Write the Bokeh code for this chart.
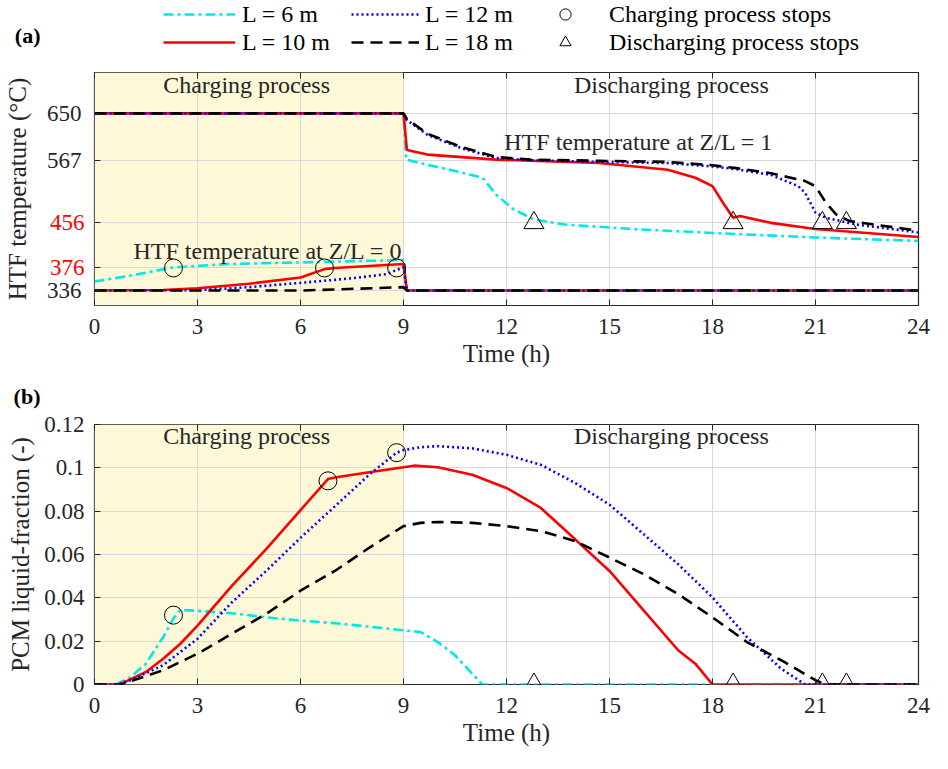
import math
from bokeh.plotting import figure
from bokeh.models import (Range1d, FixedTicker, LinearAxis, BoxAnnotation, Label,
                          Legend, LegendItem)
from bokeh.layouts import column
from bokeh.embed import file_html
from bokeh.resources import INLINE

FONT = "Liberation Serif"
INK = "#262626"
W = 932
NAN = [math.nan]   # placeholder data for legend-only renderers

# ---------------- data ----------------
x_ticks = [0, 3, 6, 9, 12, 15, 18, 21, 24]
temp_ticks = [336, 376, 456, 567, 650]
temp_black_ticks = [336, 567, 650]
temp_red_ticks = [376, 456]
frac_ticks = [0, 0.02, 0.04, 0.06, 0.08, 0.1, 0.12]
frac_tick_labels = ["0", "0.02", "0.04", "0.06", "0.08", "0.1", "0.12"]
charge_end = 9

labels = ["L = 6 m", "L = 10 m", "L = 12 m", "L = 18 m"]

# HTF temperature at Z/L = 1 (upper curves)
t_up_6 = [0, 9, 9.08, 9.7, 10.5, 11.3, 11.7, 12.2, 12.8, 13.7, 15.7, 18, 21, 24]
T_up_6 = [650, 650, 568, 559, 548, 536, 506, 480, 462, 453, 445, 438, 430, 424]
t_up_10 = [0, 9, 9.1, 9.7, 11.7, 14.7, 16.7, 17.5, 18, 18.3, 18.6, 18.8, 19.7, 21, 24]
T_up_10 = [650, 650, 585, 577, 568, 562, 550, 536, 521, 492, 465, 468, 456, 445, 431]
t_up_12 = [0, 9, 9.1, 9.7, 10.7, 11.7, 12.7, 14.7, 16.7, 18, 18.7, 19.7, 20.5, 20.7, 21, 21.3, 22.2, 24]
T_up_12 = [650, 650, 638, 612, 588, 571, 567, 564, 562, 556, 551, 541, 521, 509, 474, 465, 453, 439]
t_up_18 = [0, 9, 9.1, 9.7, 10.7, 11.7, 12.7, 14.7, 16.7, 18, 18.7, 19.7, 20.7, 21, 21.3, 21.6, 22, 24]
T_up_18 = [650, 650, 640, 614, 590, 573, 568, 566, 564, 558, 553, 544, 530, 521, 492, 471, 459, 442]

# HTF temperature at Z/L = 0 (lower curves)
t_lo_6 = [0, 1, 2.3, 3.9, 6.8, 9, 9.1, 24]
T_lo_6 = [352, 362, 377, 383, 387, 390, 336, 336]
t_lo_10 = [0, 2, 3, 4.5, 6, 6.7, 7, 9, 9.1, 24]
T_lo_10 = [336, 337, 340, 348, 359, 374, 376, 383, 336, 336]
t_lo_12 = [0, 3, 4.5, 6, 7.5, 8.5, 8.9, 9, 9.1, 24]
T_lo_12 = [336, 336.6, 342, 349.6, 357.8, 365, 375, 377, 336, 336]
t_lo_18 = [0, 6, 7, 9, 9.1, 24]
T_lo_18 = [336, 336, 338, 342, 336, 336]

# PCM liquid fraction
t_f_6 = [0, 0.6, 1, 1.5, 2, 2.3, 2.5, 3, 4, 5, 6, 7, 8, 9, 9.5, 10, 10.5, 11, 11.3, 24]
f_6 = [0, 0, 0.0028, 0.0096, 0.0219, 0.0305, 0.0344, 0.034, 0.0329, 0.031, 0.0295,
       0.0283, 0.0267, 0.025, 0.0242, 0.0196, 0.0135, 0.005, 0, 0]
t_f_10 = [0, 0.7, 1, 1.5, 2, 2.5, 3, 4, 5, 6, 6.8, 7, 8, 9, 9.3, 10, 11, 12, 13, 14,
          15, 16, 17, 17.5, 18, 24]
f_10 = [0, 0, 0.002, 0.0058, 0.0119, 0.0188, 0.0272, 0.0455, 0.0625, 0.0805, 0.0948,
        0.0955, 0.098, 0.1003, 0.101, 0.1003, 0.0968, 0.0907, 0.0815, 0.067, 0.0524,
        0.0341, 0.0158, 0.0096, 0.0, 0]
t_f_12 = [0, 0.7, 1, 2, 3, 4, 5, 6, 7, 8, 8.8, 9, 9.5, 10, 11, 12, 13, 14, 15, 16,
          17, 18, 19, 20, 20.7, 24]
f_12 = [0, 0, 0.0017, 0.0089, 0.0211, 0.0379, 0.0524, 0.0677, 0.0822, 0.0968, 0.107,
        0.1082, 0.1095, 0.110, 0.109, 0.106, 0.1014, 0.093, 0.083, 0.0693, 0.0555,
        0.0402, 0.0219, 0.0073, 0, 0]
t_f_18 = [0, 0.8, 1, 2, 3, 4, 5, 6, 7, 8, 9, 9.5, 10, 11, 12, 13, 14, 15, 16, 17,
          18, 19, 20, 21, 21.3, 24]
f_18 = [0, 0, 0.0012, 0.0066, 0.0142, 0.0234, 0.0326, 0.0433, 0.0524, 0.0631, 0.0731,
        0.0746, 0.075, 0.0746, 0.0731, 0.0708, 0.0662, 0.0586, 0.0509, 0.0417, 0.031,
        0.0196, 0.0112, 0.002, 0, 0]

# markers: charging stops (circles) and discharging stops (triangles)
charge_stop_t_a = [2.3, 6.7, 8.8]
charge_stop_T = [376, 376, 376]
charge_stop_t_b = [2.3, 6.8, 8.8]
charge_stop_f = [0.032, 0.094, 0.107]
dis_stop_t = [12.8, 18.6, 21.2, 21.9]
dis_stop_T = [456, 456, 456, 456]
dis_stop_f = [0, 0, 0, 0]

# ---------------- styles ----------------
styles = {
    "L = 6 m": dict(line_color="#00E8E8", line_dash="10 4 3 4", line_width=2.6),
    "L = 10 m": dict(line_color="#FF0000", line_dash="solid", line_width=2.6),
    "L = 12 m": dict(line_color="#0000FF", line_dash="2 3", line_width=2.6),
    "L = 18 m": dict(line_color="#000000", line_dash="12 7", line_width=2.6),
}
circle_style = dict(marker="circle", size=18, fill_color=None, line_color="#000000", line_width=1)
tri_style = dict(marker="triangle", size=20, fill_color=None, line_color="#000000", line_width=1)


def strip_fig(height, tag, tag_pos):
    """Thin figure above a panel: carries the panel tag (as a bold axis label) and legends."""
    p = figure(width=W, height=height, x_range=Range1d(0, 1), y_range=Range1d(height, 0),
               output_backend="svg", toolbar_location=None,
               x_axis_location=None, y_axis_location="left",
               min_border_left=89, min_border_right=14, min_border_top=0, min_border_bottom=0,
               outline_line_color=None,
               background_fill_color="white", border_fill_color="white")
    p.grid.grid_line_color = None
    ax = p.yaxis[0]
    ax.ticker = FixedTicker(ticks=[tag_pos])
    ax.major_label_overrides = {tag_pos: tag}
    ax.axis_line_color = None
    ax.major_tick_line_color = None
    ax.minor_tick_line_color = None
    ax.major_tick_in = 0
    ax.major_tick_out = 0
    ax.major_label_text_font = FONT
    ax.major_label_text_font_size = "22px"
    ax.major_label_text_font_style = "bold"
    ax.major_label_text_color = "#000000"
    ax.major_label_standoff = 54
    return p


def plain_axis(ticks):
    return LinearAxis(ticker=FixedTicker(ticks=ticks), axis_line_color=None,
                      major_tick_in=6, major_tick_out=0, major_tick_line_color=INK,
                      minor_tick_line_color=None, major_label_text_color=None,
                      major_label_text_font_size="0px", major_label_standoff=0)


def style_label_axis(ax, ticks, color, standoff):
    ax.ticker = FixedTicker(ticks=ticks)
    ax.axis_line_color = None
    ax.major_tick_line_color = None
    ax.minor_tick_line_color = None
    ax.major_tick_in = 0
    ax.major_tick_out = 0
    ax.major_label_text_font = FONT
    ax.major_label_text_font_size = "23px"
    ax.major_label_text_color = color
    ax.major_label_standoff = standoff
    ax.axis_label_text_font = FONT
    ax.axis_label_text_font_size = "25px"
    ax.axis_label_text_font_style = "normal"
    ax.axis_label_text_color = INK


def make_fig(height, y_range, grid_ticks, border_top, border_bottom):
    p = figure(width=W, height=height, x_range=Range1d(0, 24), y_range=y_range,
               output_backend="svg", toolbar_location=None,
               min_border_left=89, min_border_right=14,
               min_border_top=border_top, min_border_bottom=border_bottom,
               background_fill_color="white", border_fill_color="white",
               outline_line_color=INK, outline_line_width=1.2)
    xa = p.xaxis[0]
    xa.ticker = FixedTicker(ticks=x_ticks)
    xa.axis_line_color = None
    xa.major_tick_in = 6
    xa.major_tick_out = 0
    xa.major_tick_line_color = INK
    xa.minor_tick_line_color = None
    xa.major_label_text_font = FONT
    xa.major_label_text_font_size = "23px"
    xa.major_label_text_color = INK
    xa.major_label_standoff = 13
    xa.axis_label = "Time (h)"
    xa.axis_label_text_font = FONT
    xa.axis_label_text_font_size = "25px"
    xa.axis_label_text_font_style = "normal"
    xa.axis_label_text_color = INK
    xa.axis_label_standoff = 3
    ya = p.yaxis[0]          # tick marks only
    ya.ticker = FixedTicker(ticks=grid_ticks)
    ya.axis_line_color = None
    ya.major_tick_in = 6
    ya.major_tick_out = 0
    ya.major_tick_line_color = INK
    ya.minor_tick_line_color = None
    ya.major_label_text_color = None
    ya.major_label_text_font_size = "0px"
    ya.major_label_standoff = 0
    p.xgrid.ticker = FixedTicker(ticks=x_ticks)
    p.ygrid.ticker = FixedTicker(ticks=grid_ticks)
    for g in (p.xgrid[0], p.ygrid[0]):
        g.grid_line_color = "#D9D9D9"
        g.grid_line_width = 1
    p.add_layout(plain_axis(grid_ticks), "right")
    p.add_layout(plain_axis(x_ticks), "above")
    p.add_layout(BoxAnnotation(left=0, right=charge_end, fill_color="#FDF8D7",
                               fill_alpha=1, line_color=None, level="image"))
    return p


def text(p, s, x, y, size="24px", align="center", color=INK, style="normal"):
    p.add_layout(Label(x=x, y=y, text=s, text_font=FONT, text_font_size=size,
                       text_align=align, text_baseline="middle", text_color=color,
                       text_font_style=style))


# ---------------- legend strip with "(a)" ----------------
pl = strip_fig(62, "(a)", 35)
dummy = {lab: pl.line(x=NAN, y=NAN, **styles[lab]) for lab in labels}
d_circ = pl.scatter(x=NAN, y=NAN, **circle_style)
d_tri = pl.scatter(x=NAN, y=NAN, **tri_style)
leg_common = dict(orientation="vertical", glyph_height=28, label_height=28,
                  spacing=0, padding=0, margin=0, label_text_font=FONT,
                  label_text_font_size="24px", label_text_color="#000000",
                  background_fill_alpha=0, border_line_color=None)
pl.add_layout(Legend(items=[LegendItem(label=labels[0], renderers=[dummy[labels[0]]]),
                            LegendItem(label=labels[1], renderers=[dummy[labels[1]]])],
                     location=(69, 6), glyph_width=72, label_standoff=7, **leg_common))
pl.add_layout(Legend(items=[LegendItem(label=labels[2], renderers=[dummy[labels[2]]]),
                            LegendItem(label=labels[3], renderers=[dummy[labels[3]]])],
                     location=(257, 6), glyph_width=68, label_standoff=6, **leg_common))
pl.add_layout(Legend(items=[LegendItem(label="Charging process stops", renderers=[d_circ]),
                            LegendItem(label="Discharging process stops", renderers=[d_tri])],
                     location=(451, 6), glyph_width=40, label_standoff=24, **leg_common))

# ---------------- panel (a) ----------------
pa = make_fig(315, Range1d(309.5, 722.5), temp_ticks, 10, 72)
ax_red = LinearAxis()
style_label_axis(ax_red, temp_red_ticks, "#FF0000", 10)
pa.add_layout(ax_red, "left")
ax_black = LinearAxis()
style_label_axis(ax_black, temp_black_ticks, INK, -35)
ax_black.axis_label = "HTF temperature (°C)"
ax_black.axis_label_standoff = 13
pa.add_layout(ax_black, "left")

for lab, tx, ty in zip(labels, [t_up_6, t_up_10, t_up_12, t_up_18],
                       [T_up_6, T_up_10, T_up_12, T_up_18]):
    pa.line(tx, ty, **styles[lab])
for lab, tx, ty in zip(labels, [t_lo_6, t_lo_10, t_lo_12, t_lo_18],
                       [T_lo_6, T_lo_10, T_lo_12, T_lo_18]):
    pa.line(tx, ty, **styles[lab])
pa.scatter(charge_stop_t_a, charge_stop_T, **circle_style)
pa.scatter(dis_stop_t, dis_stop_T, **tri_style)

text(pa, "Charging process", 4.43, 699.5)
text(pa, "Discharging process", 16.8, 699.5)
text(pa, "HTF temperature at Z/L = 1", 15.85, 600)
text(pa, "HTF temperature at Z/L = 0", 5.05, 406.6)

# ---------------- "(b)" strip ----------------
pbh = strip_fig(35, "(b)", 19)

# ---------------- panel (b) ----------------
pb = make_fig(341, Range1d(0, 0.12), frac_ticks, 12, 69)
ax_f = LinearAxis()
style_label_axis(ax_f, frac_ticks, INK, 10)
ax_f.major_label_overrides = dict(zip(frac_ticks, frac_tick_labels))
ax_f.axis_label = "PCM liquid-fraction (-)"
ax_f.axis_label_standoff = 7
pb.add_layout(ax_f, "left")

for lab, tx, ty in zip(labels, [t_f_6, t_f_10, t_f_12, t_f_18], [f_6, f_10, f_12, f_18]):
    pb.line(tx, ty, **styles[lab])
pb.scatter(charge_stop_t_b, charge_stop_f, **circle_style)
pb.scatter(dis_stop_t, dis_stop_f, **tri_style)

text(pb, "Charging process", 4.43, 0.1145)
text(pb, "Discharging process", 16.8, 0.1145)

layout = column(pl, pa, pbh, pb)
open("out.html", "w").write(file_html(layout, INLINE))
